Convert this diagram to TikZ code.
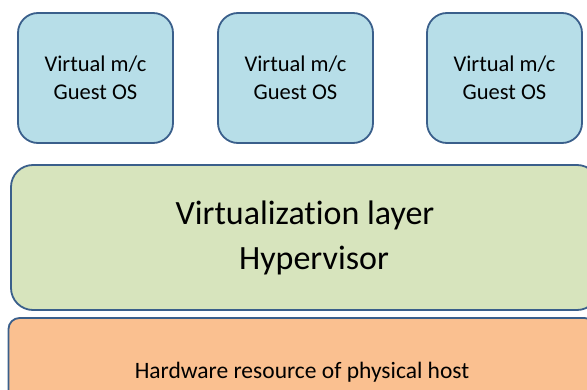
\documentclass[tikz,border=0pt]{standalone}
\usepackage{fontspec}
\setmainfont[Ligatures=NoCommon]{Carlito}
\definecolor{vmblue}{HTML}{B7DEE8}
\definecolor{hvgreen}{HTML}{D7E4BD}
\definecolor{hworange}{HTML}{FAC090}
\definecolor{edgeblue}{HTML}{3A5F8B}
\begin{document}
\begin{tikzpicture}[x=1pt,y=1pt,line width=1.8pt,
 layerbox/.style={draw=edgeblue,inner sep=0pt,align=center},
 vmbox/.style={layerbox,fill=vmblue,rounded corners=20pt,minimum width=155pt,
  minimum height=130pt,font=\fontsize{22.5}{28}\selectfont},
 hvbox/.style={layerbox,fill=hvgreen,rounded corners=22pt,minimum width=588pt,
  minimum height=145pt,font=\fontsize{34}{45}\selectfont},
 hwbox/.style={layerbox,fill=hworange,rounded corners=11pt,minimum width=587pt,
  minimum height=102pt,text depth=0pt,font=\fontsize{23.5}{27}\selectfont}]
\clip (0,0) rectangle (587,389);
\node[vmbox] (vma) at (95.5,311) {Virtual m/c\\Guest OS};
\node[vmbox] (vmb) at (295.5,311) {Virtual m/c\\Guest OS};
\node[vmbox] (vmc) at (504.5,311) {Virtual m/c\\Guest OS};
\node[hvbox] (hv) at (305,151.5) {Virtualization layer\\\hspace*{18pt}Hypervisor};
\node[hwbox,text height=18pt] (hw) at (302,20) {Hardware resource of physical host};
\end{tikzpicture}
\end{document}
